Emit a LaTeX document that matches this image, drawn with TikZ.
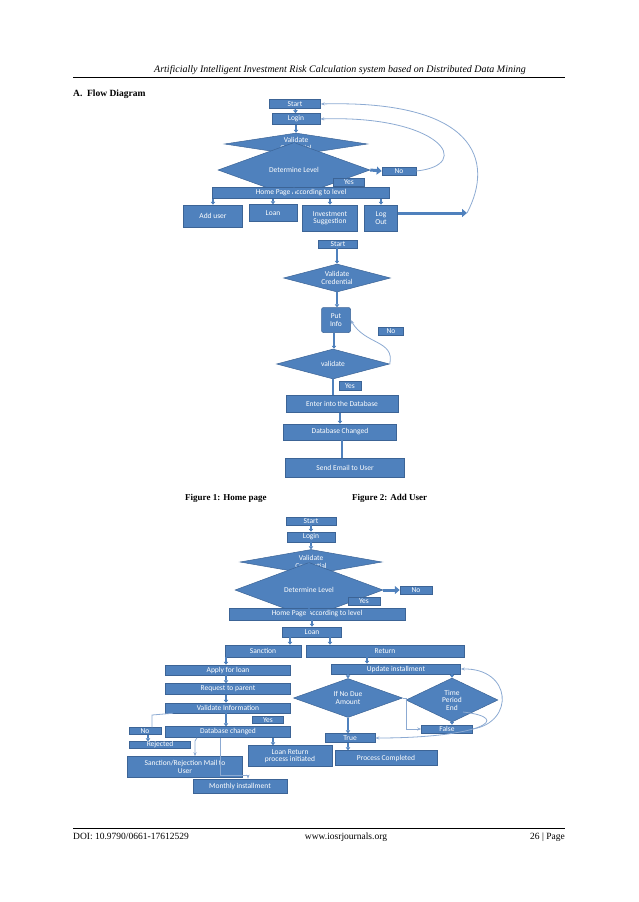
\documentclass[tikz,border=0pt]{standalone}
\usepackage{fontspec}
\setmainfont{Liberation Serif}
\newfontfamily\boxfont{Carlito}
\usetikzlibrary{shapes.geometric,arrows.meta}
\definecolor{boxblue}{RGB}{79,129,189}
\definecolor{boxline}{RGB}{60,100,150}
\definecolor{backblue}{RGB}{140,170,210}

\begin{document}
\begin{tikzpicture}
[
x=1pt,y=-1pt,
box/.style={fill=boxblue,draw=boxline,line width=0.5pt,text=white,font=\boxfont\fontsize{7.5}{7.5}\selectfont,align=center,inner sep=0pt},
blk/.style 2 args={box,rectangle,minimum width=#1,minimum height=#2},
rblk/.style 2 args={blk={#1}{#2},rounded corners=2pt},
dmd/.style 2 args={box,diamond,minimum width=#1,minimum height=#2},
link/.style={draw=boxblue,line width=1.6pt,-{Triangle[length=3pt,width=4.5pt]}},
bar/.style={draw=boxblue,line width=1.6pt},
fat/.style={draw=boxblue,line width=3pt,-{Triangle[length=5pt,width=8pt]}},
back/.style={draw=backblue,line width=0.8pt,-{Stealth[length=4pt]}},
line/.style={draw=backblue,line width=0.8pt},
]
\useasboundingbox (0,0) rectangle (638,902);

%Page header and footer
\node[anchor=base,font=\itshape\fontsize{10}{10}\selectfont] (head) at (340,72) {Artificially Intelligent Investment Risk Calculation system based on Distributed Data Mining};
\draw[line width=0.4pt] (73,77) -- (565,77);
\node[anchor=base west,font=\bfseries\fontsize{9.5}{9.5}\selectfont,inner sep=0pt] (sec) at (73,96) {A.\ \ Flow Diagram};
\draw[line width=0.4pt] (73,828) -- (565,828);
\node[anchor=base west,inner sep=0pt,font=\fontsize{9.5}{9.5}\selectfont] (doi) at (73,839) {DOI: 10.9790/0661-17612529};
\node[anchor=base,inner sep=0pt,font=\fontsize{9.5}{9.5}\selectfont] (www) at (346,839) {www.iosrjournals.org};
\node[anchor=base east,inner sep=0pt,font=\fontsize{9.5}{9.5}\selectfont] (pg) at (565,839) {26 | Page};
\node[anchor=base west,inner sep=0pt,font=\bfseries\fontsize{9}{9}\selectfont] (cap1) at (185,500) {Figure 1: Home page};
\node[anchor=base west,inner sep=0pt,font=\bfseries\fontsize{9}{9}\selectfont] (cap2) at (352,500) {Figure 2: Add User};

%Figure 1: place the nodes
\node[blk={51}{9}] (a1) at (295,104) {Start};
\node[blk={48}{11}] (a2) at (296,119) {Login};
\node[dmd={143}{22}] (a3) at (296,144) {};
\node[box,fill=none,draw=none] at (a3) {Validate\\Credential};
\node[dmd={152}{19}] (a4) at (294,170) {Determine Level};
\node[blk={34}{8}] (a5) at (399,171) {No};
\node[blk={31}{8}] (a6) at (349,182) {Yes};
\node[blk={177}{11}] (a7) at (301,193) {Home Page According to level};
\node[blk={59}{22}] (a8) at (213,216) {Add user};
\node[blk={48}{17}] (a9) at (273,213) {Loan};
\node[blk={55}{26}] (a10) at (330,218) {Investment\\Suggestion};
\node[blk={33}{26}] (a11) at (381,218) {Log\\Out};
\coordinate (a12) at (467,213);
%Figure 1: draw the connections
\draw[link] (a1) -- (a2);
\draw[link] (a2) -- (a3);
\draw[link] (a3.south) -- (a4.north);
\draw[fat] (a4.east) -- (a5.west);
\draw[link] (a4.south) -- (a7.north -| a4.south);
\draw[link] (a7.south -| a8.north) -- (a8.north);
\draw[link] (a7.south -| a9.north) -- (a9.north);
\draw[link] (a7.south -| a10.north) -- (a10.north);
\draw[link] (a7.south -| a11.north) -- (a11.north);
\draw[fat] (a11.east |- a12) -- (a12);
\draw[back] (a5.east) .. controls (475,165) and (440,115) .. (a2.east);
\draw[back] (a12) .. controls (495,160) and (475,100) .. (a1.east);

%Figure 2: place the nodes
\node[blk={39}{8}] (b1) at (338,244) {Start};
\node[dmd={107}{28}] (b2) at (337,278) {};
\node[box,fill=none,draw=none] at (b2) {Validate\\Credential};
\node[rblk={29}{25}] (b3) at (336,320) {Put\\Info};
\node[blk={25}{8}] (b4) at (391,331) {No};
\node[dmd={113}{30}] (b5) at (333,364) {validate};
\node[blk={22}{9}] (b6) at (350,386) {Yes};
\node[blk={112}{17}] (b7) at (342,404) {Enter into the Database};
\node[blk={113}{16}] (b8) at (340,432) {Database Changed};
\node[blk={119}{19}] (b9) at (345,468) {Send Email to User};
%Figure 2: draw the connections
\draw[link] (b1.south -| 337,0) -- (b2.north);
\draw[link] (b2.south) -- (b3.north -| b2.south);
\draw[link] (b3.south -| 334,0) -- (b5.north -| 334,0);
\draw[bar] (b5.south) -- (b7.north -| b5.south);
\draw[link] (b7.south -| 340,0) -- (b8.north -| 340,0);
\draw[bar] (b8.south -| 342,0) -- (b9.north -| 342,0);
\draw[back] (b5.east) .. controls (395,340) and (365,345) .. (b3.east);

%Figure 3: place the nodes
\node[blk={50}{8}] (c1) at (311,521) {Start};
\node[blk={48}{10}] (c2) at (311,537) {Login};
\node[dmd={142}{25}] (c3) at (311,562) {};
\node[box,fill=none,draw=none] at (c3) {Validate\\Credential};
\node[dmd={148}{20}] (c4) at (309,590) {Determine Level};
\node[blk={32}{8}] (c5) at (416,590) {No};
\node[blk={32}{8}] (c6) at (364,601) {Yes};
\node[blk={176}{12}] (c7) at (317,614) {Home Page According to level};
\node[blk={59}{10}] (c8) at (312,632) {Loan};
\node[blk={76}{12}] (c9) at (263,651) {Sanction};
\node[blk={158}{12}] (c10) at (385,651) {Return};
\node[blk={125}{10}] (c11) at (228,670) {Apply for loan};
\node[blk={125}{11}] (c12) at (228,689) {Request to parent};
\node[blk={125}{10}] (c13) at (228,708) {Validate Information};
\node[blk={31}{7}] (c14) at (268,720) {Yes};
\node[blk={32}{7}] (c15) at (145,731) {No};
\node[blk={125}{11}] (c16) at (228,732) {Database changed};
\node[blk={61}{7}] (c17) at (160,745) {Rejected};
\node[blk={115}{21}] (c18) at (185,767) {Sanction/Rejection Mail to\\User};
\node[blk={94}{14}] (c19) at (240,786) {Monthly installment};
\node[blk={84}{21}] (c20) at (290,756) {Loan Return\\process initiated};
\node[blk={129}{10}] (c21) at (396,669) {Update installment};
\node[dmd={109}{39}] (c22) at (348,698) {};
\node[box,fill=none,draw=none] at (c22) {If No Due\\Amount};
\node[dmd={92}{44}] (c23) at (452,700) {};
\node[box,fill=none,draw=none] at (c23) {Time\\Period\\End};
\node[blk={51}{8}] (c24) at (447,729) {False};
\node[blk={50}{9}] (c25) at (350,738) {True};
\node[blk={102}{15}] (c26) at (386,758) {Process Completed};
%Figure 3: draw the connections
\draw[link] (c1) -- (c2);
\draw[link] (c2) -- (c3);
\draw[link] (c3.south -| c4.north) -- (c4.north);
\draw[fat] (c4.east) -- (c5.west);
\draw[link] (c4.south) -- (c7.north -| c4.south);
\draw[link] (c7.south -| c8.north) -- (c8.north);
\draw[link] (c8.south -| 290,0) -- (c9.north -| 290,0);
\draw[link] (c8.south -| 330,0) -- (c10.north -| 330,0);
\draw[link] (c9.south -| 226,0) -- (c11.north -| 226,0);
\draw[link] (c10.south -| 367,0) -- (c21.north -| 367,0);
\draw[link] (c11.south -| 226,0) -- (c12.north -| 226,0);
\draw[link] (c12.south -| 226,0) -- (c13.north -| 226,0);
\draw[link] (c13.south -| 226,0) -- (c16.north -| 226,0);
\draw[line] (c13.south -| 173,0) -- (152,715) -- (c15.north -| 152,0);
\draw[link] (c15.south -| 148,0) -- (c17.north -| 148,0);
\draw[back] (c16.south -| 197,0) -- (195,741) -- (c18.north -| 195,0);
\draw[back] (c16.south -| 220,0) -- (220,775) -- (248,775) -- (c19.north -| 248,0);
\draw[link] (c16.south -| 273,0) -- (c20.north -| 273,0);
\draw[link] (c21.south -| c22.north) -- (c22.north);
\draw[link] (c21.south -| c23.north) -- (c23.north);
\draw[link] (c22.south) -- (c25.north -| c22.south);
\draw[link] (c25.south -| c22.south) -- (c26.north -| c22.south);
\draw[link] (c23.south) -- (c24.north -| c23.south);
\draw[back] (c22.east) -- (406,698) |- (c24.west);
\draw[back] (c24.east) .. controls (515,722) and (512,668) .. (c21.east);
\draw[back] (463,712) .. controls (515,718) and (480,738) .. (c25.east);
\end{tikzpicture}
\end{document}
